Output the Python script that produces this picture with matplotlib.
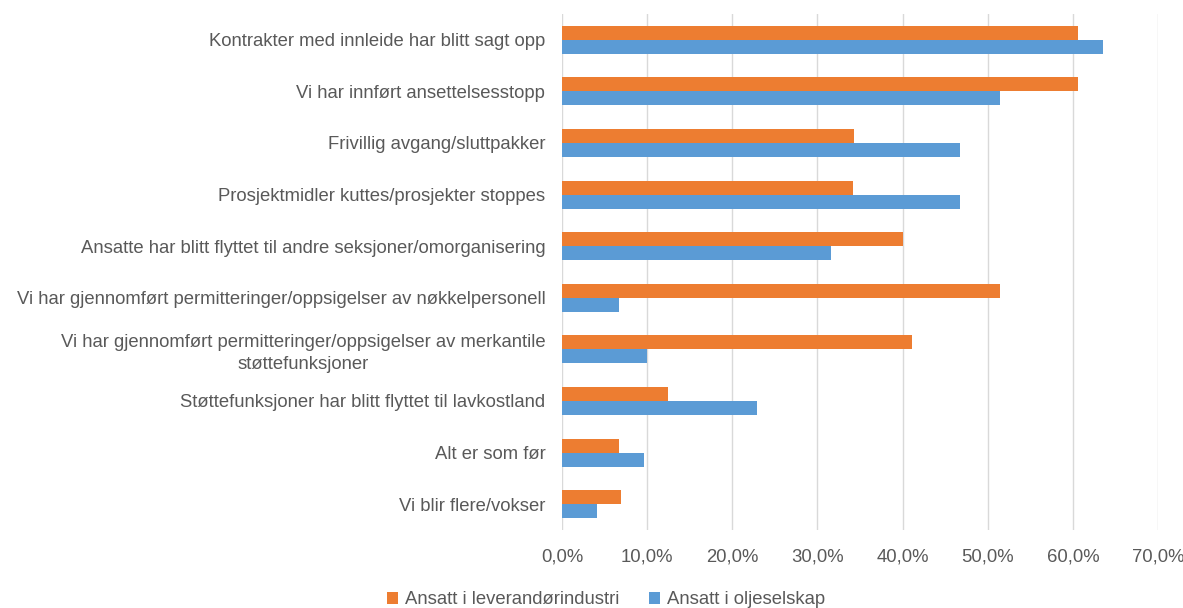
import matplotlib.pyplot as plt
from matplotlib.ticker import FuncFormatter
import numpy as np

categories = [
    "Kontrakter med innleide har blitt sagt opp",
    "Vi har innført ansettelsesstopp",
    "Frivillig avgang/sluttpakker",
    "Prosjektmidler kuttes/prosjekter stoppes",
    "Ansatte har blitt flyttet til andre seksjoner/omorganisering",
    "Vi har gjennomført permitteringer/oppsigelser av nøkkelpersonell",
    "Vi har gjennomført permitteringer/oppsigelser av merkantile\nstøttefunksjoner",
    "Støttefunksjoner har blitt flyttet til lavkostland",
    "Alt er som før",
    "Vi blir flere/vokser",
]
leverandor = [60.6, 60.6, 34.3, 34.2, 40.0, 51.4, 41.1, 12.5, 6.7, 6.9]
oljeselskap = [63.5, 51.4, 46.8, 46.8, 31.6, 6.7, 10.0, 22.9, 9.6, 4.1]
series_names = ["Ansatt i leverandørindustri", "Ansatt i oljeselskap"]

ORANGE = "#ED7D31"
BLUE = "#5B9BD5"
GREY = "#595959"

plt.rcParams['font.family'] = ['Liberation Sans', 'DejaVu Sans']

fig = plt.figure(figsize=(11.83, 6.08), dpi=100)
ax = fig.add_axes([562 / 1183, 1 - 530 / 608, (1158 - 562) / 1183, 516 / 608])

y = np.arange(len(categories))
h = 0.27
ax.barh(y - h / 2, leverandor, height=h, color=ORANGE, label=series_names[0], zorder=3)
ax.barh(y + h / 2, oljeselskap, height=h, color=BLUE, label=series_names[1], zorder=3)

ax.set_ylim(len(categories) - 0.5, -0.5)
ax.set_xlim(0, 70)
ax.set_xticks(np.arange(0, 71, 10))
ax.xaxis.set_major_formatter(FuncFormatter(lambda v, p: f"{v:.1f}%".replace(".", ",")))
ax.set_yticks(y)
ax.set_yticklabels(categories, linespacing=1.35)
for lab in ax.get_yticklabels():
    lab.set_multialignment('center')

ax.grid(axis='x', color="#D9D9D9", linewidth=1, zorder=0)
for s in ax.spines.values():
    s.set_visible(False)
ax.tick_params(axis='both', length=0, colors=GREY, labelsize=13.3)
ax.tick_params(axis='y', pad=12)
ax.tick_params(axis='x', pad=13)

fig.legend(loc='center', bbox_to_anchor=(606 / 1183, 1 - 600 / 608), ncol=2, frameon=False,
           fontsize=13.3, handlelength=0.6, handleheight=0.6, columnspacing=1.6,
           handletextpad=0.4, labelcolor=GREY)

fig.savefig("out.png", dpi=100)
